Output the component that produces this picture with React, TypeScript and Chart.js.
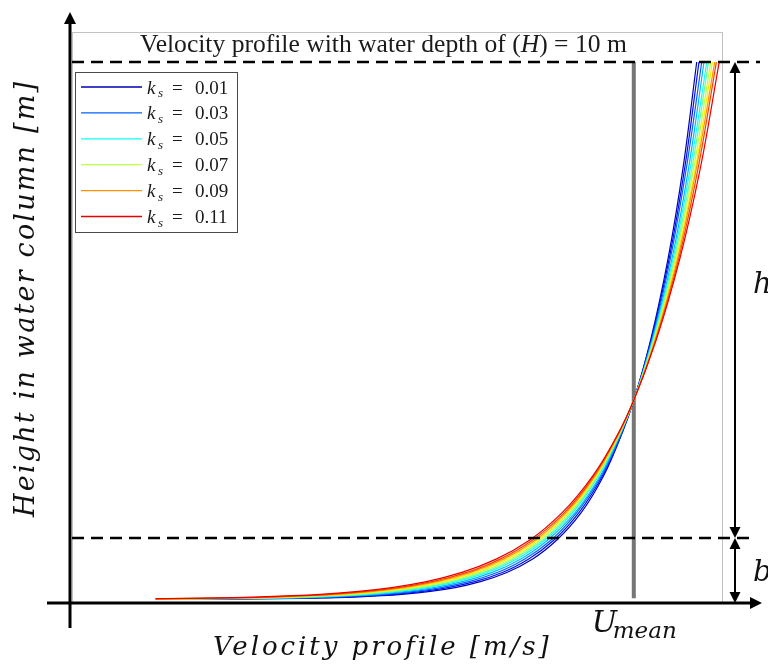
import React, { useEffect, useRef } from "react";
import { Chart, registerables } from "chart.js";

Chart.register(...registerables);

// Heights above the bed [m] at which the velocity profiles are read
const heights = [0.085, 0.095, 0.11, 0.135, 0.165, 0.215, 0.285, 0.395, 0.565, 0.815, 1.165, 1.665, 2.365, 3.165, 3.75, 4.865, 6.365, 8.065, 10.0];

// Roughness values of the plotted profiles
const ksValues = [0.01, 0.02, 0.03, 0.04, 0.05, 0.06, 0.07, 0.08, 0.09, 0.1, 0.11];

// Lowest point of each profile (height [m]) and its velocity [m/s]
const startHeights = [0.067, 0.0676, 0.0684, 0.0694, 0.0705, 0.0715, 0.0727, 0.074, 0.0755, 0.0771, 0.0792];
const startVelocity = 0.149;

// Velocity [m/s] at each height, one array per roughness value
const uKs001 = [0.411, 0.456, 0.502, 0.552, 0.592, 0.638, 0.682, 0.727, 0.774, 0.820, 0.863, 0.906, 0.947, 0.980, 1.000, 1.030, 1.061, 1.088, 1.112];
const uKs002 = [0.388, 0.435, 0.483, 0.535, 0.577, 0.624, 0.669, 0.717, 0.766, 0.813, 0.858, 0.902, 0.945, 0.980, 1.000, 1.031, 1.063, 1.091, 1.116];
const uKs003 = [0.365, 0.414, 0.463, 0.517, 0.561, 0.610, 0.657, 0.706, 0.757, 0.806, 0.853, 0.898, 0.943, 0.979, 1.000, 1.032, 1.065, 1.094, 1.121];
const uKs004 = [0.342, 0.393, 0.444, 0.500, 0.545, 0.596, 0.644, 0.695, 0.748, 0.799, 0.847, 0.895, 0.941, 0.978, 1.000, 1.033, 1.068, 1.098, 1.125];
const uKs005 = [0.319, 0.372, 0.425, 0.482, 0.529, 0.582, 0.632, 0.685, 0.739, 0.792, 0.842, 0.891, 0.938, 0.977, 1.000, 1.034, 1.070, 1.101, 1.130];
const uKs006 = [0.300, 0.354, 0.409, 0.468, 0.516, 0.570, 0.622, 0.676, 0.732, 0.786, 0.838, 0.888, 0.937, 0.977, 1.000, 1.035, 1.072, 1.104, 1.133];
const uKs007 = [0.281, 0.337, 0.393, 0.454, 0.503, 0.559, 0.612, 0.667, 0.725, 0.781, 0.833, 0.885, 0.935, 0.976, 1.000, 1.036, 1.074, 1.107, 1.137];
const uKs008 = [0.262, 0.320, 0.377, 0.439, 0.490, 0.547, 0.601, 0.659, 0.718, 0.775, 0.829, 0.882, 0.933, 0.976, 1.000, 1.037, 1.076, 1.110, 1.140];
const uKs009 = [0.244, 0.302, 0.361, 0.425, 0.477, 0.536, 0.591, 0.650, 0.710, 0.769, 0.825, 0.879, 0.932, 0.975, 1.000, 1.038, 1.078, 1.112, 1.144];
const uKs010 = [0.225, 0.285, 0.345, 0.411, 0.464, 0.524, 0.581, 0.641, 0.703, 0.763, 0.820, 0.876, 0.930, 0.974, 1.000, 1.039, 1.080, 1.115, 1.147];
const uKs011 = [0.202, 0.264, 0.326, 0.393, 0.448, 0.510, 0.569, 0.631, 0.694, 0.756, 0.815, 0.872, 0.928, 0.974, 1.000, 1.040, 1.082, 1.119, 1.152];

const velocitySeries = [uKs001, uKs002, uKs003, uKs004, uKs005, uKs006, uKs007, uKs008, uKs009, uKs010, uKs011];

const lineColors = [
  "#0000b3", "#000aff", "#0061ff", "#00b8ff", "#0fffef", "#66ff99",
  "#bdff42", "#ffeb00", "#ff9400", "#ff3d00", "#e60000",
];

// Legend entries (every second profile)
const legendKs = ["0.01", "0.03", "0.05", "0.07", "0.09", "0.11"];
const legendSeriesIndex = [0, 2, 4, 6, 8, 10];

const waterDepth = 10; // H [m]
const bedLayer = 1.2; // b [m]
const uMean = 1.0; // U_mean [m/s]
const meanLineBottom = 0.09;
const uAxisMax = 1.157;
const zAxisMax = 10.555;

const SERIF = '"Liberation Serif", "DejaVu Serif", serif';
const MATH = '"DejaVu Serif", serif';

function spaced(ctx: CanvasRenderingContext2D, text: string, x: number, y: number, target: number) {
  (ctx as any).letterSpacing = "0px";
  const w = ctx.measureText(text).width;
  const n = [...text].length;
  const s = n > 1 ? (target - w) / (n - 1) : 0;
  (ctx as any).letterSpacing = s.toFixed(2) + "px";
  ctx.fillText(text, x, y);
  (ctx as any).letterSpacing = "0px";
}

function head(ctx: CanvasRenderingContext2D, x: number, y: number, dir: string, len: number, half: number) {
  ctx.beginPath();
  if (dir === "up") {
    ctx.moveTo(x, y); ctx.lineTo(x - half, y + len); ctx.lineTo(x + half, y + len);
  } else if (dir === "down") {
    ctx.moveTo(x, y); ctx.lineTo(x - half, y - len); ctx.lineTo(x + half, y - len);
  } else {
    ctx.moveTo(x, y); ctx.lineTo(x - len, y - half); ctx.lineTo(x - len, y + half);
  }
  ctx.closePath();
  ctx.fill();
}

const decorPlugin = {
  id: "decor",
  beforeDatasetsDraw(chart: any) {
    const { ctx, chartArea: a, scales } = chart;
    const xs = scales.x, ys = scales.y;
    ctx.save();
    ctx.strokeStyle = "#c2c2c2";
    ctx.lineWidth = 1;
    ctx.strokeRect(a.left + 0.5, a.top + 0.5, a.right - a.left, a.bottom - a.top);
    const xm = xs.getPixelForValue(uMean);
    ctx.strokeStyle = "#767676";
    ctx.lineWidth = 4;
    ctx.beginPath();
    ctx.moveTo(xm, ys.getPixelForValue(waterDepth));
    ctx.lineTo(xm, ys.getPixelForValue(meanLineBottom));
    ctx.stroke();
    ctx.restore();
  },
  afterDatasetsDraw(chart: any) {
    const { ctx, chartArea: a, scales } = chart;
    const xs = scales.x, ys = scales.y;
    const yTop = ys.getPixelForValue(waterDepth);
    const yBed = ys.getPixelForValue(bedLayer);
    const y0 = ys.getPixelForValue(0);
    ctx.save();
    ctx.fillStyle = "#000";
    ctx.strokeStyle = "#000";

    // dashed lines at H and b
    ctx.lineWidth = 2.5;
    ctx.setLineDash([12, 7]);
    ctx.beginPath();
    ctx.moveTo(a.left, yTop); ctx.lineTo(a.right + 38, yTop);
    ctx.moveTo(a.left, yBed); ctx.lineTo(a.right + 30, yBed);
    ctx.stroke();
    ctx.setLineDash([]);

    // main axes with arrows
    ctx.lineWidth = 3;
    const axX = a.left - 2;
    ctx.beginPath();
    ctx.moveTo(axX, a.bottom + 25); ctx.lineTo(axX, a.top - 12);
    ctx.moveTo(a.left - 25, y0); ctx.lineTo(a.right + 30, y0);
    ctx.stroke();
    head(ctx, axX, a.top - 20, "up", 12, 6);
    head(ctx, a.right + 40, y0, "right", 12, 6);

    // h and b dimension arrows
    const dx = a.right + 13;
    ctx.lineWidth = 2;
    ctx.beginPath();
    ctx.moveTo(dx, yTop + 8); ctx.lineTo(dx, yBed - 8);
    ctx.moveTo(dx, yBed + 8); ctx.lineTo(dx, y0 - 8);
    ctx.stroke();
    head(ctx, dx, yTop, "up", 11, 5.5);
    head(ctx, dx, yBed, "down", 11, 5.5);
    head(ctx, dx, yBed, "up", 11, 5.5);
    head(ctx, dx, y0, "down", 11, 5.5);

    ctx.fillStyle = "#111";
    ctx.textBaseline = "alphabetic";
    ctx.textAlign = "left";
    ctx.font = `italic 29px ${MATH}`;
    ctx.fillText("h", a.right + 31, (yTop + yBed) / 2 - 7);
    ctx.fillText("b", a.right + 31, (yBed + y0) / 2 + 10);

    // U_mean label
    const xm = xs.getPixelForValue(uMean);
    ctx.font = `italic 30px ${MATH}`;
    ctx.fillText("U", xm - 42, a.bottom + 29);
    ctx.font = `italic 23px ${MATH}`;
    ctx.fillText("mean", xm - 21, a.bottom + 35);

    // axis titles
    ctx.font = `italic 26px ${MATH}`;
    spaced(ctx, "Velocity profile [m/s]", a.left + 141, a.bottom + 52, 335);
    ctx.save();
    ctx.translate(a.left - 38, a.bottom - 86);
    ctx.rotate(-Math.PI / 2);
    ctx.font = `italic 27px ${MATH}`;
    spaced(ctx, "Height in water column [m]", 0, 0, 435);
    ctx.restore();

    // title inside the frame
    const segs: [string, boolean][] = [
      ["Velocity profile with water depth of (", false],
      ["H", true],
      [`) = ${waterDepth} m`, false],
    ];
    const meas = (sz: number) =>
      segs.reduce((s, [t, it]) => {
        ctx.font = `${it ? "italic " : ""}${sz}px ${SERIF}`;
        return s + ctx.measureText(t).width;
      }, 0);
    const size = (20 * 487) / meas(20);
    let tx = a.left + 68;
    ctx.fillStyle = "#1a1a1a";
    segs.forEach(([t, it]) => {
      ctx.font = `${it ? "italic " : ""}${size}px ${SERIF}`;
      ctx.fillText(t, tx, a.top + 20);
      tx += ctx.measureText(t).width;
    });

    // legend
    const lx = a.left + 3, ly = a.top + 40, lw = 162, lh = 160;
    ctx.fillStyle = "#fff";
    ctx.fillRect(lx, ly, lw, lh);
    ctx.strokeStyle = "#4a4a4a";
    ctx.lineWidth = 1;
    ctx.strokeRect(lx + 0.5, ly + 0.5, lw, lh);
    legendKs.forEach((lab, i) => {
      const yy = ly + 15 + i * 25.9;
      ctx.strokeStyle = lineColors[legendSeriesIndex[i]];
      ctx.lineWidth = 1.3;
      ctx.beginPath();
      ctx.moveTo(lx + 6, yy); ctx.lineTo(lx + 67, yy);
      ctx.stroke();
      ctx.fillStyle = "#1a1a1a";
      ctx.font = `italic 19px ${SERIF}`;
      ctx.fillText("k", lx + 72, yy + 6.5);
      ctx.font = `italic 13px ${SERIF}`;
      ctx.fillText("s", lx + 83, yy + 10);
      ctx.font = `19px ${SERIF}`;
      ctx.fillText("=", lx + 97, yy + 6.5);
      ctx.fillText(lab, lx + 120, yy + 6.5);
    });
    ctx.restore();
  },
};

export default function App() {
  const ref = useRef<HTMLCanvasElement | null>(null);
  useEffect(() => {
    if (!ref.current) return;
    const chart = new Chart(ref.current, {
      type: "line",
      data: {
        datasets: velocitySeries.map((arr, i) => ({
          label: `k_s = ${ksValues[i]}`,
          data: [
            { x: startVelocity, y: startHeights[i] },
            ...heights.map((z, j) => ({ x: arr[j], y: z })),
          ],
          borderColor: lineColors[i],
          backgroundColor: lineColors[i],
          borderWidth: 1.2,
          pointRadius: 0,
          fill: false,
          cubicInterpolationMode: "monotone",
          order: velocitySeries.length - 1 - i,
        })),
      },
      options: {
        animation: false,
        responsive: false,
        indexAxis: "y",
        layout: { padding: { left: 72, right: 46, top: 32, bottom: 62 } },
        scales: {
          x: { type: "linear", min: 0, max: uAxisMax, display: false },
          y: { type: "linear", min: 0, max: zAxisMax, display: false },
        },
        plugins: {
          legend: { display: false },
          tooltip: { enabled: false },
          title: { display: false },
        },
      },
      plugins: [decorPlugin],
    } as any);
    return () => chart.destroy();
  }, []);
  return (
    <div style={{ position: "fixed", left: 0, top: 0, width: 768, height: 665, background: "#fff" }}>
      <canvas ref={ref} width={768} height={665} style={{ display: "block", width: 768, height: 665 }} />
    </div>
  );
}
